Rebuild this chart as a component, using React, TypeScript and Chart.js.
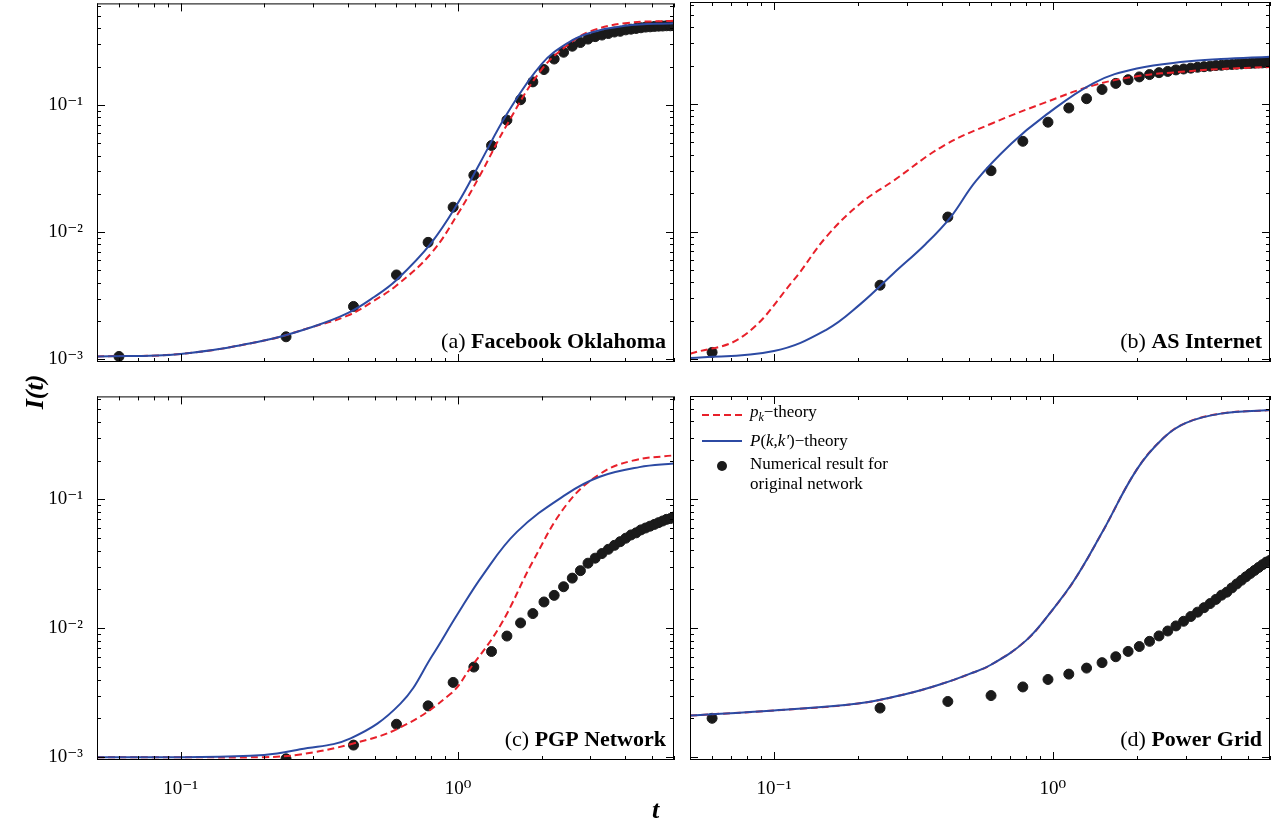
import { useEffect, useRef } from "react"
import { Chart, registerables } from "chart.js"

Chart.register(...registerables)

// sample times for dots
const dotT = [0.06, 0.24, 0.42, 0.6, 0.78, 0.96, 1.14, 1.32, 1.5, 1.68, 1.86, 2.04, 2.22, 2.4, 2.58, 2.76, 2.94, 3.12, 3.3, 3.48, 3.66, 3.84, 4.02, 4.2, 4.38, 4.56, 4.74, 4.92, 5.1, 5.28, 5.46, 5.64, 5.82, 6.0]
const curveT = [0.05, 0.1, 0.2, 0.3, 0.4, 0.5, 0.6, 0.8, 1.0, 1.2, 1.5, 2.0, 2.5, 3.0, 4.0, 6.0]

// (a) Facebook Oklahoma
const aRed = [0.00105, 0.0011, 0.0014, 0.0018, 0.0022, 0.0029, 0.0038, 0.0068, 0.014, 0.028, 0.07, 0.19, 0.3, 0.38, 0.44, 0.46]
const aBlue = [0.00105, 0.0011, 0.0014, 0.0018, 0.0023, 0.0031, 0.0042, 0.0082, 0.017, 0.035, 0.085, 0.21, 0.31, 0.37, 0.42, 0.44]
const aDots = [0.00105, 0.0015, 0.0026, 0.0046, 0.0083, 0.0157, 0.028, 0.048, 0.076, 0.11, 0.152, 0.19, 0.23, 0.26, 0.29, 0.31, 0.33, 0.345, 0.355, 0.365, 0.375, 0.38, 0.39, 0.395, 0.4, 0.405, 0.41, 0.412, 0.415, 0.417, 0.418, 0.42, 0.42, 0.42]

// (b) AS Internet
const bRedT = [0.05, 0.077, 0.117, 0.154, 0.204, 0.268, 0.405, 0.61, 0.93, 1.4, 2.0, 3.0, 4.0, 6.0]
const bRed = [0.0011, 0.0015, 0.0041, 0.0091, 0.0166, 0.025, 0.047, 0.071, 0.102, 0.14, 0.165, 0.18, 0.188, 0.195]
const bBlueT = [0.05, 0.1, 0.154, 0.204, 0.268, 0.35, 0.43, 0.53, 0.71, 0.93, 1.4, 2.0, 3.0, 4.0, 6.0]
const bBlue = [0.00102, 0.00116, 0.0017, 0.0027, 0.0047, 0.008, 0.013, 0.025, 0.049, 0.08, 0.146, 0.19, 0.215, 0.225, 0.235]
const bDots = [0.00113, 0.0038, 0.013, 0.03, 0.051, 0.072, 0.093, 0.11, 0.13, 0.145, 0.155, 0.163, 0.17, 0.176, 0.18, 0.185, 0.188, 0.191, 0.194, 0.196, 0.198, 0.2, 0.201, 0.203, 0.204, 0.205, 0.206, 0.207, 0.208, 0.209, 0.21, 0.21, 0.211, 0.212]

// (c) PGP Network
const cRedT = [0.05, 0.1, 0.2, 0.27, 0.41, 0.62, 0.94, 1.1, 1.42, 1.86, 2.46, 3.24, 4.26, 6.0]
const cRed = [0.001, 0.001, 0.001, 0.00105, 0.00126, 0.0017, 0.0031, 0.0048, 0.0105, 0.033, 0.091, 0.157, 0.2, 0.22]
const cBlueT = [0.05, 0.1, 0.2, 0.27, 0.41, 0.62, 0.81, 0.99, 1.23, 1.63, 2.46, 3.24, 4.5, 6.0]
const cBlue = [0.001, 0.001, 0.00104, 0.00115, 0.0014, 0.0026, 0.0062, 0.0126, 0.026, 0.056, 0.11, 0.15, 0.178, 0.19]
const cDots = [null, 0.00097, 0.00124, 0.0018, 0.0025, 0.0038, 0.005, 0.0066, 0.0087, 0.011, 0.013, 0.016, 0.018, 0.021, 0.0245, 0.028, 0.032, 0.035, 0.038, 0.041, 0.044, 0.047, 0.05, 0.053, 0.055, 0.058, 0.06, 0.062, 0.064, 0.066, 0.068, 0.07, 0.071, 0.073]

// (d) Power Grid
const dRed = [0.0021, 0.0023, 0.0026, 0.0031, 0.0037, 0.0044, 0.0052, 0.008, 0.014, 0.024, 0.055, 0.17, 0.3, 0.39, 0.46, 0.49]
const dBlue = dRed
const dDots = [0.002, 0.0024, 0.0027, 0.003, 0.0035, 0.004, 0.0044, 0.0049, 0.0054, 0.006, 0.0066, 0.0072, 0.0079, 0.0087, 0.0095, 0.0104, 0.0113, 0.0123, 0.0133, 0.0144, 0.0155, 0.0167, 0.018, 0.019, 0.0205, 0.022, 0.0235, 0.025, 0.0265, 0.028, 0.0295, 0.031, 0.0325, 0.0335]

const xTicks = [0.1, 1]
const xTickLabels = ["10⁻¹", "10⁰"]
const yTicks = [0.001, 0.01, 0.1]
const yTickLabels = ["10⁻³", "10⁻²", "10⁻¹"]

const RED = "#e8202a"
const BLUE = "#2c4aa3"
const SERIF = "'Liberation Serif', 'DejaVu Serif', serif"

type PanelProps = {
  redT: number[]; red: number[]; blueT: number[]; blue: number[]; dots: (number | null)[]
  label: string; bold: string; left: boolean; bottom: boolean; top: number; height: number
}

function Panel({ redT, red, blueT, blue, dots, label, bold, left, bottom, top, height }: PanelProps) {
  const ref = useRef<HTMLCanvasElement>(null)
  useEffect(() => {
    if (!ref.current) return
    const pts = (ts: number[], vs: (number | null)[]) =>
      ts.map((t, i) => ({ x: t, y: vs[i] })).filter((p) => p.y != null) as { x: number; y: number }[]
    const boxPlugin = {
      id: "box",
      afterDraw(chart: Chart) {
        const { ctx, chartArea: a } = chart
        const xs = chart.scales.x
        const ys = chart.scales.y
        ctx.save()
        ctx.strokeStyle = "#000"
        ctx.lineWidth = 1
        ctx.strokeRect(a.left + 0.5, a.top + 0.5, a.right - a.left - 1, a.bottom - a.top - 1)
        // inward log ticks
        ctx.beginPath()
        for (const dec of [0.01, 0.1, 1]) {
          for (let m = 1; m <= 9; m++) {
            const v = dec * m
            if (v < 0.05 || v > 6) continue
            const p = Math.round(xs.getPixelForValue(v)) + 0.5
            const len = m === 1 ? 8 : 4
            ctx.moveTo(p, a.bottom); ctx.lineTo(p, a.bottom - len)
            ctx.moveTo(p, a.top); ctx.lineTo(p, a.top + len)
          }
        }
        for (const dec of [0.0001, 0.001, 0.01, 0.1]) {
          for (let m = 1; m <= 9; m++) {
            const v = dec * m
            if (v < 0.00095 || v > 0.63) continue
            const p = Math.round(ys.getPixelForValue(v)) + 0.5
            const len = m === 1 ? 8 : 4
            ctx.moveTo(a.left, p); ctx.lineTo(a.left + len, p)
            ctx.moveTo(a.right, p); ctx.lineTo(a.right - len, p)
          }
        }
        ctx.stroke()
        const boldFont = `bold 22px ${SERIF}`
        ctx.font = boldFont
        const bw = ctx.measureText(bold).width
        ctx.font = `22px ${SERIF}`
        const lw = ctx.measureText(label + " ").width
        const x0 = a.right - 8 - bw - lw
        const y0 = a.bottom - 14
        ctx.fillStyle = "#000"
        ctx.textBaseline = "alphabetic"
        ctx.fillText(label + " ", x0, y0)
        ctx.font = boldFont
        ctx.fillText(bold, x0 + lw, y0)
        ctx.restore()
      },
    }
    const chart = new Chart(ref.current, {
      type: "scatter",
      data: {
        datasets: [
          { data: pts(blueT, blue), showLine: true, borderColor: BLUE, borderWidth: 2, pointRadius: 0, tension: 0.4 },
          { data: pts(redT, red), showLine: true, borderColor: RED, borderWidth: 2, borderDash: [7, 4], pointRadius: 0, tension: 0.4 },
          { data: pts(dotT, dots), showLine: false, backgroundColor: "#1a1a1a", borderColor: "#1a1a1a", pointRadius: 5 },
        ],
      },
      options: {
        animation: false,
        responsive: false,
        layout: { padding: { top: bottom ? 17 : 3, right: left ? 5 : 7, left: 0, bottom: 0 } },
        plugins: { legend: { display: false }, tooltip: { enabled: false } },
        scales: {
          x: {
            type: "logarithmic", min: 0.05, max: 6,
            grid: { display: false },
            border: { display: false },
            afterBuildTicks: (s: any) => { s.ticks = xTicks.map((v) => ({ value: v })) },
            afterFit: (s: any) => { s.height = bottom ? 64 : 18 },
            ticks: {
              display: bottom, color: "#000", padding: 10,
              font: { family: SERIF, size: 19 },
              callback: (v: any) => xTickLabels[xTicks.indexOf(Number(v))] ?? "",
            },
          },
          y: {
            type: "logarithmic", min: 0.00095, max: 0.63,
            grid: { display: false },
            border: { display: false },
            afterBuildTicks: (s: any) => { s.ticks = yTicks.map((v) => ({ value: v })) },
            afterFit: (s: any) => { s.width = left ? 97 : 10 },
            ticks: {
              display: left, color: "#000", padding: 6,
              font: { family: SERIF, size: 19 },
              callback: (v: any) => yTickLabels[yTicks.indexOf(Number(v))] ?? "",
            },
          },
        },
      },
      plugins: [boxPlugin],
    })
    return () => chart.destroy()
  }, [redT, red, blueT, blue, dots, label, bold, left, bottom])
  return <canvas ref={ref} width={left ? 680 : 597} height={height} style={{ position: "absolute", left: left ? 0 : 680, top }} />
}

export default function App() {
  return (
    <div style={{ position: "fixed", left: 0, top: 0, width: 1277, height: 824, background: "#fff", fontFamily: SERIF, overflow: "hidden" }}>
      <Panel redT={curveT} red={aRed} blueT={curveT} blue={aBlue} dots={aDots} label="(a)" bold="Facebook Oklahoma" left bottom={false} top={-14} height={394} />
      <Panel redT={bRedT} red={bRed} blueT={bBlueT} blue={bBlue} dots={bDots} label="(b)" bold="AS Internet" left={false} bottom={false} top={-4} height={384} />
      <Panel redT={cRedT} red={cRed} blueT={cBlueT} blue={cBlue} dots={cDots} label="(c)" bold="PGP Network" left bottom top={379} height={445} />
      <Panel redT={curveT} red={dRed} blueT={curveT} blue={dBlue} dots={dDots} label="(d)" bold="Power Grid" left={false} bottom top={379} height={445} />
      <div style={{ position: "absolute", left: 0, top: 382, width: 40, transform: "rotate(-90deg)", transformOrigin: "20px 0", fontSize: 26, fontWeight: "bold", fontStyle: "italic", whiteSpace: "nowrap", textAlign: "center" }}>
        <span style={{ position: "relative", left: -10, top: 0 }}>I(t)</span>
      </div>
      <div style={{ position: "absolute", left: 652, top: 795, fontSize: 26, fontWeight: "bold", fontStyle: "italic" }}>t</div>
      <div style={{ position: "absolute", left: 700, top: 402, fontSize: 17, lineHeight: "20px" }}>
        <div style={{ display: "flex", alignItems: "center", height: 26 }}>
          <svg width={44} height={10}><line x1={2} y1={5} x2={42} y2={5} stroke={RED} strokeWidth={2} strokeDasharray="7 4" /></svg>
          <span style={{ marginLeft: 6 }}><i>p</i><sub style={{ fontSize: 12 }}><i>k</i></sub>−theory</span>
        </div>
        <div style={{ display: "flex", alignItems: "center", height: 26 }}>
          <svg width={44} height={10}><line x1={2} y1={5} x2={42} y2={5} stroke={BLUE} strokeWidth={2} /></svg>
          <span style={{ marginLeft: 6 }}><i>P</i>(<i>k</i>,<i>k'</i>)−theory</span>
        </div>
        <div style={{ display: "flex", alignItems: "flex-start" }}>
          <svg width={44} height={20}><circle cx={22} cy={12} r={5} fill="#1a1a1a" /></svg>
          <span style={{ marginLeft: 6 }}>Numerical result for<br />original network</span>
        </div>
      </div>
    </div>
  )
}
